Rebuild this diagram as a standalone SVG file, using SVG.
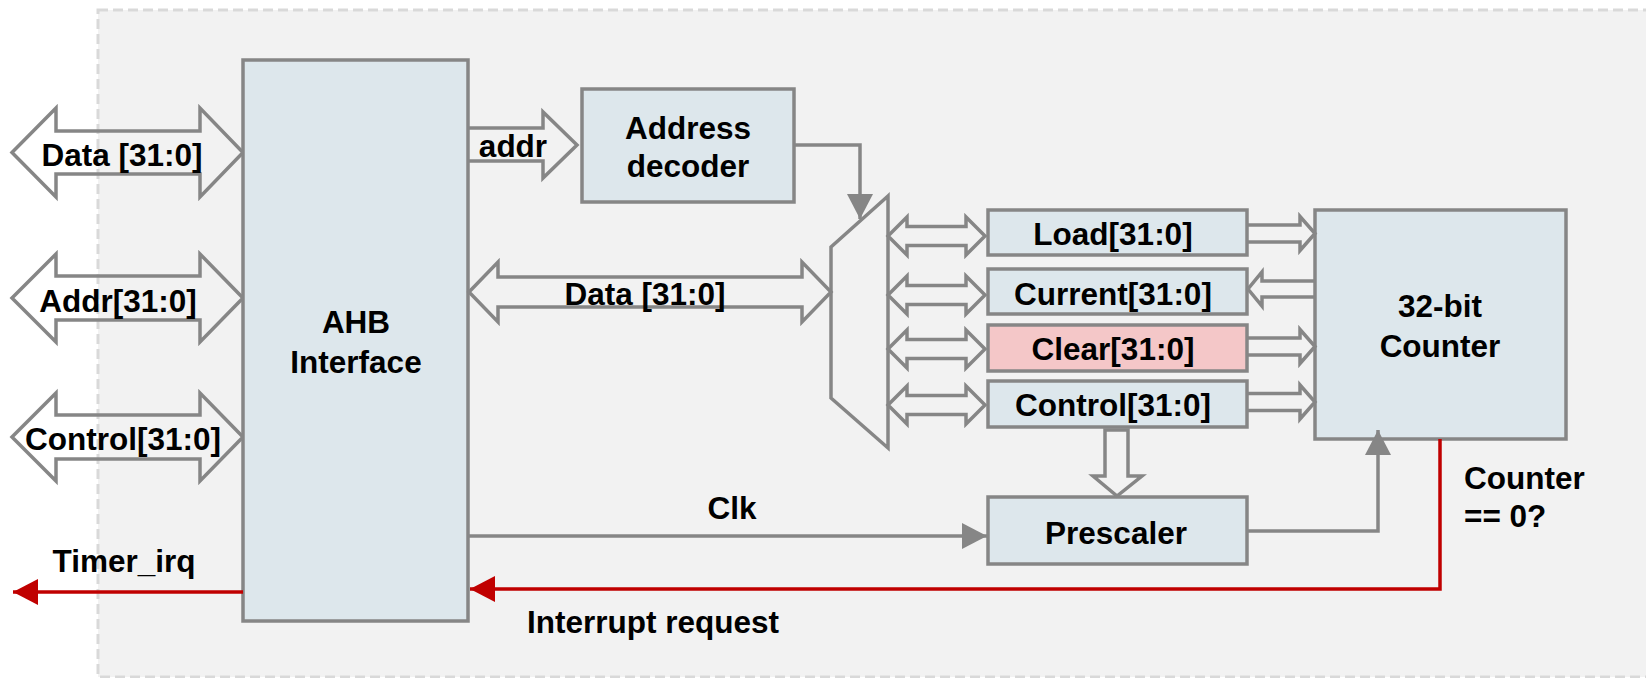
<svg xmlns="http://www.w3.org/2000/svg" width="1646" height="678" viewBox="0 0 1646 678">
  <style>
    .panel { fill: #f2f2f2; stroke: #d9d9d9; stroke-width: 3; stroke-dasharray: 10 5; }
    .blk { fill: #dde7ec; stroke: #868686; stroke-width: 3.5; }
    .blk-alert { fill: #f4c7c8; stroke: #868686; stroke-width: 3.5; }
    .bus { fill: none; stroke: #868686; stroke-width: 3.5; stroke-linejoin: miter; }
    .wire { fill: none; stroke: #868686; stroke-width: 3.5; }
    .irq { fill: none; stroke: #c00000; stroke-width: 3.5; }
    .lbl { font-family: "Liberation Sans", Arial, sans-serif; font-weight: bold; font-size: 31.5px; fill: #000; }
    .mid { text-anchor: middle; }
  </style>
  <defs>
    <marker id="head-gray" markerUnits="userSpaceOnUse" viewBox="0 0 25 26" refX="25" refY="13" markerWidth="25" markerHeight="26" orient="auto">
      <path d="M0,0 L25,13 L0,26 Z" fill="#868686"/>
    </marker>
    <marker id="head-red" markerUnits="userSpaceOnUse" viewBox="0 0 25 26" refX="25" refY="13" markerWidth="25" markerHeight="26" orient="auto">
      <path d="M0,0 L25,13 L0,26 Z" fill="#c00000"/>
    </marker>
  </defs>

  <!-- timer peripheral boundary -->
  <rect class="panel" x="98" y="10" width="1600" height="667"/>

  <!-- external bus ports -->
  <g id="port-data">
    <path class="bus" d="M12,152.5 L56,108 L56,131 L200,131 L200,108 L243,152.5 L200,197 L200,174 L56,174 L56,197 Z"/>
    <text class="lbl mid" x="122" y="166">Data [31:0]</text>
  </g>
  <g id="port-addr">
    <path class="bus" d="M12,298 L56,254 L56,276 L200,276 L200,254 L243,298 L200,342 L200,320 L56,320 L56,342 Z"/>
    <text class="lbl mid" x="118" y="312">Addr[31:0]</text>
  </g>
  <g id="port-control">
    <path class="bus" d="M12,437 L56,393 L56,415 L200,415 L200,393 L243,437 L200,481 L200,459 L56,459 L56,481 Z"/>
    <text class="lbl mid" x="123" y="450">Control[31:0]</text>
  </g>

  <!-- blocks -->
  <g id="ahb-interface">
    <rect class="blk" x="243" y="60" width="225" height="561"/>
    <text class="lbl mid" x="356" y="333">AHB</text>
    <text class="lbl mid" x="356" y="373">Interface</text>
  </g>
  <g id="address-decoder">
    <rect class="blk" x="582" y="89" width="212" height="113"/>
    <text class="lbl mid" x="688" y="139">Address</text>
    <text class="lbl mid" x="688" y="177">decoder</text>
  </g>
  <g id="mux">
    <polygon class="bus" points="888,196 831,247 831,398 888,448"/>
  </g>
  <g id="reg-load">
    <rect class="blk" x="988" y="210" width="259" height="45"/>
    <text class="lbl mid" x="1113" y="245">Load[31:0]</text>
  </g>
  <g id="reg-current">
    <rect class="blk" x="988" y="269" width="259" height="45"/>
    <text class="lbl mid" x="1113" y="305">Current[31:0]</text>
  </g>
  <g id="reg-clear">
    <rect class="blk-alert" x="988" y="325" width="259" height="46"/>
    <text class="lbl mid" x="1113" y="360">Clear[31:0]</text>
  </g>
  <g id="reg-control">
    <rect class="blk" x="988" y="381" width="259" height="46"/>
    <text class="lbl mid" x="1113" y="416">Control[31:0]</text>
  </g>
  <g id="prescaler">
    <rect class="blk" x="988" y="497" width="259" height="67"/>
    <text class="lbl mid" x="1116" y="544">Prescaler</text>
  </g>
  <g id="counter">
    <rect class="blk" x="1315" y="210" width="251" height="229"/>
    <text class="lbl mid" x="1440" y="317">32-bit</text>
    <text class="lbl mid" x="1440" y="357">Counter</text>
  </g>

  <!-- connectors -->
  <g id="connectors">
    <!-- address to decoder -->
    <path class="bus" d="M468,128 L543,128 L543,112 L577,145 L543,178 L543,161 L468,161"/>
    <text class="lbl mid" x="513" y="157">addr</text>
    <!-- internal data bus -->
    <path class="bus" d="M469,292 L498,262 L498,277 L802,277 L802,262 L831,292 L802,322 L802,307 L498,307 L498,322 Z"/>
    <text class="lbl mid" x="645" y="305">Data [31:0]</text>
    <!-- decoder select -->
    <path class="wire" d="M794,145 L860,145 L860,219" marker-end="url(#head-gray)"/>
    <!-- mux to registers -->
    <path class="bus" d="M888,236 L907,217 L907,226.5 L966,226.5 L966,217 L985,236 L966,255 L966,245.5 L907,245.5 L907,255 Z"/>
    <path class="bus" d="M888,295 L907,276 L907,285.5 L966,285.5 L966,276 L985,295 L966,314 L966,304.5 L907,304.5 L907,314 Z"/>
    <path class="bus" d="M888,349 L907,330 L907,339.5 L966,339.5 L966,330 L985,349 L966,368 L966,358.5 L907,358.5 L907,368 Z"/>
    <path class="bus" d="M888,405 L907,386 L907,395.5 L966,395.5 L966,386 L985,405 L966,424 L966,414.5 L907,414.5 L907,424 Z"/>
    <!-- registers to counter -->
    <path class="bus" d="M1247,225 L1300,225 L1300,216.5 L1315,233.5 L1300,250.5 L1300,242 L1247,242"/>
    <path class="bus" d="M1315,281 L1262,281 L1262,272 L1248,289 L1262,306 L1262,297 L1315,297"/>
    <path class="bus" d="M1247,338 L1300,338 L1300,329.5 L1315,346.5 L1300,363.5 L1300,355 L1247,355"/>
    <path class="bus" d="M1247,393.5 L1300,393.5 L1300,385 L1315,402 L1300,419 L1300,410.5 L1247,410.5"/>
    <!-- control to prescaler -->
    <path class="bus" d="M1105,430 L1105,476 L1093,476 L1117,496 L1142,476 L1128,476 L1128,430 Z"/>
    <!-- clock -->
    <path class="wire" d="M468,536 L987,536" marker-end="url(#head-gray)"/>
    <text class="lbl mid" x="732" y="519">Clk</text>
    <!-- prescaler tick to counter -->
    <path class="wire" d="M1247,531 L1378,531 L1378,430" marker-end="url(#head-gray)"/>
    <!-- interrupt path -->
    <path class="irq" d="M1440,439 L1440,589 L470,589" marker-end="url(#head-red)"/>
    <text class="lbl" x="1464" y="489">Counter</text>
    <text class="lbl" x="1464" y="527">== 0?</text>
    <text class="lbl mid" x="653" y="633">Interrupt request</text>
    <path class="irq" d="M243,592 L13,592" marker-end="url(#head-red)"/>
    <text class="lbl mid" x="124" y="572">Timer_irq</text>
  </g>
</svg>
